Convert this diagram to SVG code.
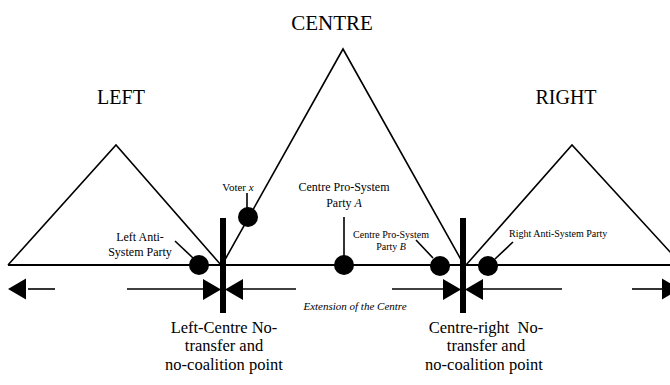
<svg xmlns="http://www.w3.org/2000/svg" width="670" height="385" viewBox="0 0 670 385">
  <style>
    .edge{fill:none;stroke:#000;stroke-width:1.6;stroke-linejoin:miter}
    .axis{stroke:#000;stroke-width:2.2}
    .lead{stroke:#000;stroke-width:1.6}
    .shaft{stroke:#000;stroke-width:1.6}
    .head{fill:#000}
    .bar{fill:#000}
    .dot{fill:#000}
    .big{font-size:20px;text-anchor:middle}
    .mid{font-size:12px;text-anchor:middle}
    .small{font-size:10px}
    .note{font-size:16.5px;text-anchor:middle}
    .it{font-style:italic}
  </style>
  <defs>
    <!-- filled arrowheads, tip at origin -->
    <path id="tipR" d="M0,0 L-18,-10.5 L-18,10.5 Z"/>
    <path id="tipL" d="M0,0 L18,-10.5 L18,10.5 Z"/>
  </defs>

  <rect width="670" height="385" fill="#fff"/>

  <g font-family="'Liberation Serif', 'DejaVu Serif', serif" fill="#000">
  <!-- ideological families -->
  <g id="left-bloc">
    <polyline class="edge" points="8,265 116,145 221,265"/>
    <text class="big" x="121" y="104">LEFT</text>
  </g>
  <g id="centre-bloc">
    <polyline class="edge" points="222,265 343,49 464,265"/>
    <text class="big" x="332" y="30" style="font-size:21px">CENTRE</text>
  </g>
  <g id="right-bloc">
    <polyline class="edge" points="466,265 572,145 682,265"/>
    <text class="big" x="566" y="104">RIGHT</text>
  </g>

  <!-- left-right axis -->
  <g id="axis">
    <line class="axis" x1="8" y1="265" x2="670" y2="265"/>
  </g>

  <!-- no-transfer / no-coalition points -->
  <g id="left-centre-point">
    <rect class="bar" x="220" y="218" width="6" height="95"/>
    <text class="note" x="224" y="332.5">Left-Centre No-</text>
    <text class="note" x="224" y="351">transfer and</text>
    <text class="note" x="224" y="369.5">no-coalition point</text>
  </g>
  <g id="centre-right-point">
    <rect class="bar" x="460" y="218" width="6" height="95"/>
    <text class="note" x="486" y="332.5" xml:space="preserve">Centre-right  No-</text>
    <text class="note" x="486" y="351">transfer and</text>
    <text class="note" x="484" y="369.5">no-coalition point</text>
  </g>

  <!-- parties and voter -->
  <g id="left-anti-system">
    <circle class="dot" cx="199" cy="265" r="10"/>
    <text class="mid" x="140" y="241">Left Anti-</text>
    <text class="mid" x="140" y="255.5">System Party</text>
  </g>
  <g id="voter-x">
    <circle class="dot" cx="248" cy="217" r="10"/>
    <text class="mid" x="238" y="191" style="font-size:11px">Voter <tspan class="it">x</tspan></text>
  </g>
  <g id="centre-party-a">
    <circle class="dot" cx="344" cy="265" r="10"/>
    <text class="mid" x="344" y="191">Centre Pro-System</text>
    <text class="mid" x="344" y="207">Party <tspan class="it">A</tspan></text>
  </g>
  <g id="centre-party-b">
    <circle class="dot" cx="440" cy="266" r="10"/>
    <text class="small" x="391" y="237.5" text-anchor="middle">Centre Pro-System</text>
    <text class="small" x="391" y="249.5" text-anchor="middle">Party <tspan class="it">B</tspan></text>
  </g>
  <g id="right-anti-system">
    <circle class="dot" cx="488" cy="266" r="10"/>
    <text class="small" x="509" y="236.5">Right Anti-System Party</text>
  </g>

  <g id="extension-label">
    <text class="it" x="355" y="310" text-anchor="middle" style="font-size:11px">Extension of the Centre</text>
  </g>
  </g>

  <!-- connectors: leader lines and arrows -->
  <g id="connectors">
    <line class="lead" x1="175" y1="241" x2="193" y2="258"/>
    <line class="lead" x1="247" y1="193" x2="247" y2="208"/>
    <line class="lead" x1="344" y1="217" x2="344" y2="256"/>
    <line class="lead" x1="416" y1="240" x2="433" y2="258"/>
    <line class="lead" x1="513" y1="242" x2="495" y2="259"/>

    <!-- outward arrows -->
    <line class="shaft" x1="28" y1="289" x2="55" y2="289"/>
    <use href="#tipL" class="head" x="8" y="289"/>
    <line class="shaft" x1="632" y1="289" x2="662" y2="289"/>
    <use href="#tipR" class="head" x="680" y="289"/>

    <!-- extension of the centre -->
    <line class="shaft" x1="127" y1="289" x2="204" y2="289"/>
    <use href="#tipR" class="head" x="221" y="289.5"/>
    <use href="#tipL" class="head" x="225" y="289.5"/>
    <line class="shaft" x1="242" y1="289" x2="296" y2="289"/>

    <line class="shaft" x1="392" y1="289" x2="444" y2="289"/>
    <use href="#tipR" class="head" x="461" y="289.5"/>
    <use href="#tipL" class="head" x="465" y="289.5"/>
    <line class="shaft" x1="482" y1="289" x2="562" y2="289"/>
  </g>
</svg>
